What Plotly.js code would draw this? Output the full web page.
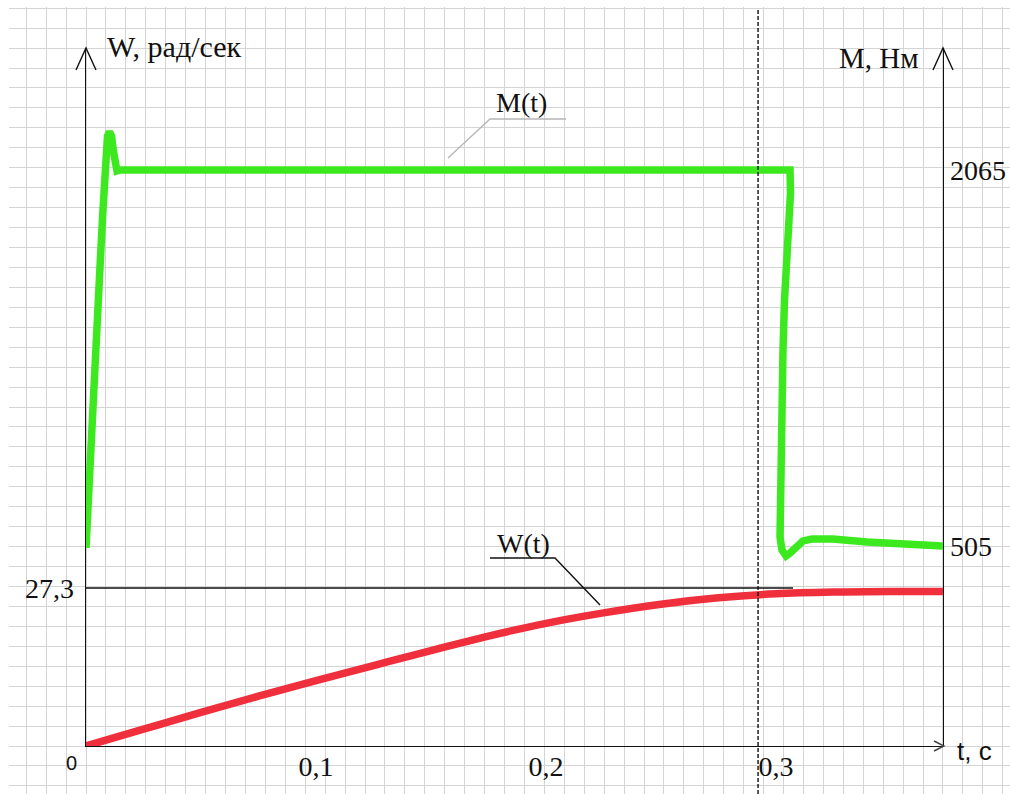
<!DOCTYPE html>
<html>
<head>
<meta charset="utf-8">
<script src="https://cdn.plot.ly/plotly-3.0.1.min.js"></script>
<style>html,body{margin:0;padding:0;background:#fff;}#chart{width:1010px;height:794px;}</style>
</head>
<body>
<div id="chart"></div>
<script>
// ---- data ----
const tW = [0, 0.025, 0.05, 0.075, 0.1, 0.125, 0.15, 0.175, 0.2, 0.225, 0.25, 0.275, 0.3, 0.325, 0.35, 0.3726];
const W  = [0, 2.9, 5.8, 8.6, 11.3, 13.9, 16.5, 19.0, 21.2, 23.0, 24.5, 25.6, 26.3, 26.6, 26.7, 26.7];

const tM = [0, 0.0010, 0.0025, 0.0043, 0.0058, 0.0073, 0.0080, 0.00826, 0.00935, 0.01022, 0.01109, 0.01196, 0.01283, 0.01348, 0.01478,
            0.30609, 0.30630, 0.30478, 0.30370, 0.30304, 0.30261, 0.30196, 0.30174, 0.30261, 0.30435, 0.30609, 0.30913, 0.31174, 0.31565, 0.32478, 0.33957, 0.35391, 0.37261];
const M  = [497, 708, 1057, 1331, 1609, 1887, 2024, 2148, 2206, 2223, 2206, 2140, 2073, 2061, 2065,
            2065, 1970, 1733, 1526, 1318, 1057, 779, 542, 488, 464, 476, 505, 526, 534, 534, 522, 517, 505];

const xTickVals = [0.1, 0.2, 0.3];
const xTickText = ['0,1', '0,2', '0,3'];
const wTickVals = [27.3];
const wTickText = ['27,3'];
const mTickVals = [505, 2065];
const mTickText = ['505', '2065'];
const W_steady = 27.3;
const t_steadyLineEnd = 0.3074;
const t_dashed = 0.2922;

// ---- helpers for decoration in pixel space ----
const FW = 1010, FH = 794;
const px = x => x / FW;
const py = y => 1 - y / FH;
const serif = 'Liberation Serif';
const sans = 'Liberation Sans';

const traces = [
  // empty trace so the background grid subplot is always built
  {x: [], y: [], xaxis: 'x', yaxis: 'y', mode: 'lines', hoverinfo: 'skip'},
  {x: tM, y: M, xaxis: 'x2', yaxis: 'y3', mode: 'lines', line: {color: '#3ce81e', width: 7.5}, hoverinfo: 'skip'},
  {x: tW, y: W, xaxis: 'x2', yaxis: 'y2', mode: 'lines', line: {color: '#ef2f3c', width: 7.5, shape: 'spline', smoothing: 1}, hoverinfo: 'skip'}
];

const gridX = {domain: [px(9), 1], range: [(9 - 86) / 19.93, (1010 - 86) / 19.93], tickmode: 'linear', dtick: 1, tick0: 0,
  showgrid: true, gridcolor: '#d4d4d4', gridwidth: 1, zeroline: false, showticklabels: false, ticks: '', showline: false, anchor: 'y'};
const gridY = {domain: [0, py(7)], range: [(746 - 794) / 19.94, (746 - 7) / 19.94], tickmode: 'linear', dtick: 1, tick0: 0,
  showgrid: true, gridcolor: '#d4d4d4', gridwidth: 1, zeroline: false, showticklabels: false, ticks: '', showline: false, anchor: 'x'};

const layout = {
  width: FW, height: FH, autosize: false,
  margin: {l: 0, r: 0, t: 0, b: 0, pad: 0},
  paper_bgcolor: '#ffffff', plot_bgcolor: 'rgba(0,0,0,0)',
  showlegend: false,
  xaxis: gridX,
  yaxis: gridY,
  xaxis2: {domain: [px(86), px(943)], range: [0, 857 / 2300], anchor: 'y2', showgrid: false, zeroline: false,
    showline: true, linecolor: '#111', linewidth: 1.4, layer: 'below traces',
    tickmode: 'array', tickvals: xTickVals, ticktext: xTickText, ticks: '', ticklabelstandoff: -5,
    tickfont: {family: serif, size: 28, color: '#111'}},
  yaxis2: {domain: [py(746), py(48)], range: [0, 698 / 5.7875], anchor: 'x2', showgrid: false, zeroline: false,
    showline: true, linecolor: '#111', linewidth: 1.4, layer: 'below traces',
    tickmode: 'array', tickvals: wTickVals, ticktext: wTickText, ticks: '', ticklabelstandoff: 5,
    tickfont: {family: serif, size: 28, color: '#111'}},
  yaxis3: {overlaying: 'y2', side: 'right', anchor: 'x2', range: [505 - 200 * 1560 / 376, 2065 + 122 * 1560 / 376],
    showgrid: false, zeroline: false, showline: true, linecolor: '#111', linewidth: 1.4, layer: 'below traces',
    tickmode: 'array', tickvals: mTickVals, ticktext: mTickText, ticks: '',
    tickfont: {family: serif, size: 28, color: '#111'}},
  shapes: [
    // steady-state speed line
    {type: 'line', xref: 'x2', yref: 'y2', x0: 0, x1: t_steadyLineEnd, y0: W_steady, y1: W_steady,
      line: {color: '#111', width: 1.4}, layer: 'below'},
    // dashed vertical marker
    {type: 'line', xref: 'x2', yref: 'paper', x0: t_dashed, x1: t_dashed, y0: 0, y1: py(8),
      line: {color: '#111', width: 1.4, dash: '4px,2px'}, layer: 'above'},
    // arrowheads
    {type: 'path', xref: 'paper', yref: 'paper', path: `M ${px(76)} ${py(70)} L ${px(86)} ${py(48)} L ${px(96)} ${py(70)}`, line: {color: '#111', width: 1.4}},
    {type: 'path', xref: 'paper', yref: 'paper', path: `M ${px(933)} ${py(70)} L ${px(943)} ${py(48)} L ${px(953)} ${py(70)}`, line: {color: '#111', width: 1.4}},
    {type: 'path', xref: 'paper', yref: 'paper', path: `M ${px(934)} ${py(741)} L ${px(944)} ${py(746)} L ${px(934)} ${py(751)}`, line: {color: '#444', width: 1.4}},
    // leader lines
    {type: 'path', xref: 'paper', yref: 'paper', path: `M ${px(448)} ${py(158)} L ${px(490)} ${py(119)} L ${px(566)} ${py(119)}`, line: {color: '#b5b5b5', width: 1.3}},
    {type: 'path', xref: 'paper', yref: 'paper', path: `M ${px(490)} ${py(558)} L ${px(555)} ${py(558)} L ${px(600)} ${py(605)}`, line: {color: '#111', width: 1.4}}
  ],
  annotations: [
    {text: 'W, рад/сек', xref: 'paper', yref: 'paper', x: px(105), y: py(46), xanchor: 'left', yanchor: 'middle', showarrow: false,
      font: {family: serif, size: 30, color: '#111'}},
    {text: 'M, Нм', xref: 'paper', yref: 'paper', x: px(921), y: py(58), xanchor: 'right', yanchor: 'middle', showarrow: false,
      font: {family: serif, size: 29, color: '#111'}},
    {text: 't, c', xref: 'paper', yref: 'paper', x: px(955), y: py(751), xanchor: 'left', yanchor: 'middle', showarrow: false,
      font: {family: sans, size: 26, color: '#111'}},
    {text: '0', xref: 'paper', yref: 'paper', x: px(71.5), y: py(763), xanchor: 'center', yanchor: 'middle', showarrow: false,
      font: {family: sans, size: 20, color: '#111'}},
    {text: 'M(t)', xref: 'paper', yref: 'paper', x: px(521), y: py(103), xanchor: 'center', yanchor: 'middle', showarrow: false,
      font: {family: serif, size: 28, color: '#111'}},
    {text: 'W(t)', xref: 'paper', yref: 'paper', x: px(523), y: py(543), xanchor: 'center', yanchor: 'middle', showarrow: false,
      font: {family: serif, size: 28, color: '#111'}}
  ]
};

Plotly.newPlot('chart', traces, layout, {staticPlot: true, displayModeBar: false});
</script>
</body>
</html>
